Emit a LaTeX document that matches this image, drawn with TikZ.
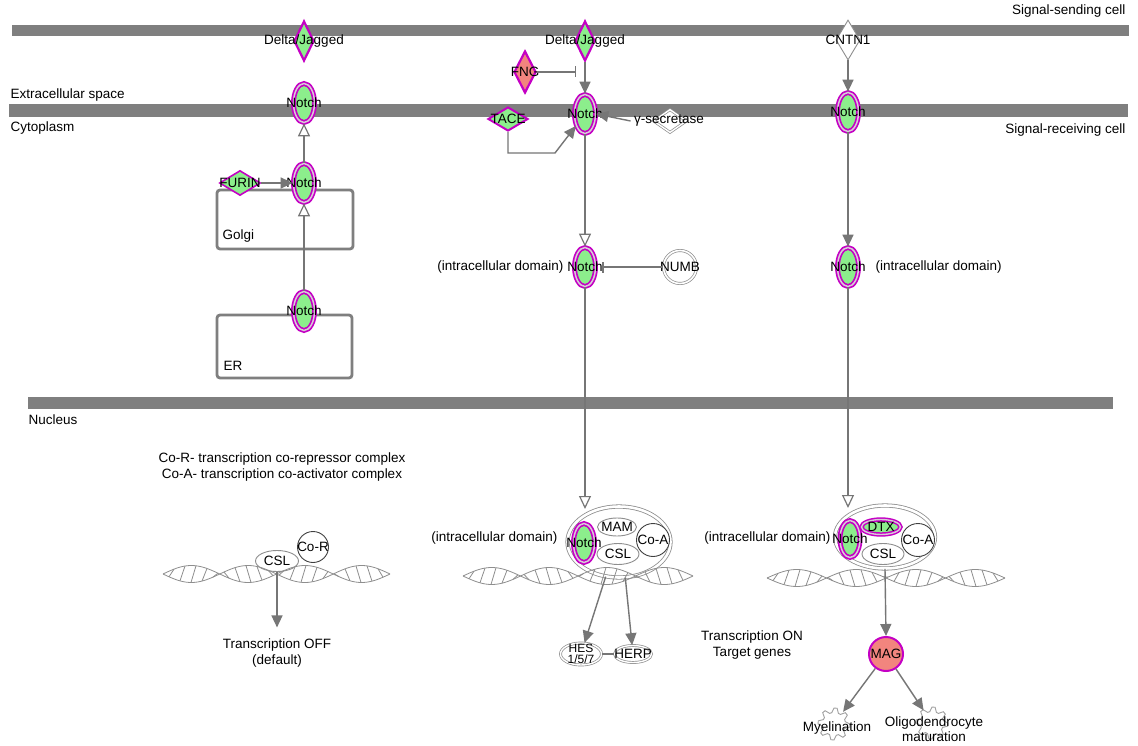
\documentclass[tikz,border=0pt]{standalone}
\usepackage{fontspec}
\setmainfont{Liberation Sans}
\usetikzlibrary{shapes.geometric,arrows.meta}
\definecolor{mag}{HTML}{C400C4}
\definecolor{ngreen}{HTML}{8CEE8C}
\definecolor{salm}{HTML}{F2857E}
\definecolor{barg}{HTML}{7F7F7F}
\definecolor{lineg}{HTML}{767676}
\definecolor{dblg}{HTML}{D8CCD8}
\definecolor{outg}{HTML}{8E8E8E}
\definecolor{darkc}{HTML}{404040}
\definecolor{gearg}{HTML}{A0A0A0}
\newcommand{\dnahelix}[3]{%
  \pgfmathsetmacro{\hk}{720/(#2-#1)}%
  \draw[dnast] plot[domain=#1:#2, samples=90, smooth] (\x, {#3+8.5*sin(\hk*(\x-#1))});
  \draw[dnast] plot[domain=#1:#2, samples=90, smooth] (\x, {#3-8.5*sin(\hk*(\x-#1))});
  \pgfmathsetmacro{\hs}{#1+6}\pgfmathsetmacro{\hn}{#1+17}\pgfmathsetmacro{\he}{#2-10}%
  \foreach \t in {\hs,\hn,...,\he}{%
    \draw[dnast] (\t,{#3+8.5*sin(\hk*(\t-#1))}) -- ({\t+5},{#3-8.5*sin(\hk*(\t+5-#1))});
  }%
}
\newcommand{\gearat}[2]{%
  \draw[draw=gearg, line width=0.9pt, fill=white] plot[samples at={0,11.25,...,348.75}, variable=\a]
   ({#1+ifthenelse(mod(round(\a/11.25),4)<2,16,11.5)*cos(\a)}, {#2+ifthenelse(mod(round(\a/11.25),4)<2,16,11.5)*sin(\a)}) -- cycle;%
}
\begin{document}
\begin{tikzpicture}[x=1pt,y=-1pt,
  every node/.style={font=\fontsize{13.5}{15.5}\selectfont, text=black},
  every label/.style={inner sep=0pt},
  notchn/.style={ellipse, draw=mag, double=dblg, double distance=1.5pt, line width=1.7pt, fill=ngreen,
     minimum width=21pt, minimum height=39pt, inner sep=0pt, label=center:Notch},
  gdia/.style={diamond, draw=mag, line width=2.2pt, fill=ngreen, inner sep=0pt},
  cplx/.style={ellipse, draw=outg, line width=0.8pt, double=white, double distance=2.6pt, fill=white, inner sep=0pt},
  gell/.style={ellipse, draw=outg, line width=0.9pt, fill=white, inner sep=0pt},
  dcirc/.style={circle, draw=darkc, line width=0.9pt, fill=white, inner sep=0pt},
  dgell/.style={ellipse, draw=outg, line width=0.7pt, double=white, double distance=1.4pt, fill=white, inner sep=0pt},
  fillarr/.style={draw=lineg, line width=1.4pt, -{Triangle[length=12pt,width=11pt]}},
  openarr/.style={draw=lineg, line width=1.2pt, -{Triangle[open, length=13pt, width=12pt, fill=white]}},
  inhib/.style={draw=lineg, line width=1.2pt, -{Bar[width=11pt, line width=1.2pt]}},
  compbox/.style={draw=barg, line width=2.8pt, rounded corners=3pt},
  dnast/.style={draw=outg, line width=0.8pt},
  membar/.style={fill=barg},
  gearnode/.style={circle, minimum size=30pt, inner sep=0pt}
]
\path[use as bounding box, fill=white] (0,0) rectangle (1138,746);

% membranes
\fill[membar] (12,25) rectangle (1129,36);
\fill[membar] (9,104) rectangle (1128,117);
\fill[membar] (28,397) rectangle (1113,409);

% region labels
\node[anchor=east] (lsend) at (1129,11) {Signal-sending cell};
\node[anchor=west] (lext) at (7,95) {Extracellular space};
\node[anchor=west] (lcyt) at (7,128) {Cytoplasm};
\node[anchor=east] (lrec) at (1129,130) {Signal-receiving cell};
\node[anchor=west] (lnuc) at (25,420) {Nucleus};

% Golgi / ER boxes
\draw[compbox] (217,190) rectangle (353,249);
\draw[compbox] (217,315) rectangle (352,378);
\node[anchor=west] (lgolgi) at (219,236) {Golgi};
\node[anchor=west] (ler) at (220,366) {ER};

% column 1
\node[gdia, minimum width=20pt, minimum height=40pt, label=center:Delta/Jagged] (dj1) at (304,41) {};
\node[notchn] (n1a) at (304,103) {};
\node[notchn] (n1b) at (304,183) {};
\node[gdia, line width=1.6pt, minimum width=41pt, minimum height=25pt, label=center:FURIN] (furin) at (240,183) {};
\node[notchn] (n1c) at (304,311) {};

% column 2
\node[gdia, minimum width=20pt, minimum height=40pt, label=center:Delta/Jagged] (dj2) at (585,41) {};
\node[gdia, fill=salm, minimum width=22pt, minimum height=42pt, label=center:FNG] (fng) at (525,72) {};
\node[notchn] (n2a) at (585,114) {};
\node[gdia, line width=2pt, minimum width=40pt, minimum height=24pt, label=center:TACE] (tace) at (508,119) {};
\node[diamond, draw=outg, line width=0.7pt, double=white, double distance=1.4pt, fill=white, inner sep=0pt,
      minimum width=33pt, minimum height=23pt] (gsec) at (670,121) {};
\node (gsl) at (669,121) {γ-secretase};
\node[notchn] (n2b) at (585,267) {};
\node[anchor=east] (icd1) at (567,267) {(intracellular domain)};
\node[circle, draw=outg, line width=0.7pt, double=white, double distance=1.6pt, fill=white, inner sep=0pt,
      minimum size=33pt, label=center:NUMB] (numb) at (680,267) {};

% column 3
\node[diamond, draw=outg, line width=0.9pt, fill=white, inner sep=0pt, minimum width=24pt, minimum height=40pt,
      label=center:CNTN1] (cntn) at (848,40) {};
\node[notchn] (n3a) at (848,112) {};
\node[notchn] (n3b) at (848,267) {};
\node[anchor=west] (icd2) at (872,267) {(intracellular domain)};

% nucleus: left
\node[align=center] (legend) at (282,467) {Co-R- transcription co-repressor complex\\Co-A- transcription co-activator complex};
\node[gell, minimum width=43pt, minimum height=21pt, label=center:CSL] (csl0) at (277,561) {};
\node[dcirc, minimum size=31pt, label=center:Co-R] (cor) at (313,547) {};
\dnahelix{163}{390}{574}
\node[align=center] (toff) at (277,653) {Transcription OFF\\(default)};

% nucleus: middle complex
\node[cplx, minimum width=103pt, minimum height=71pt] (cx2) at (619,542) {};
\node[notchn] (n2c) at (584,543) {};
\node[gell, minimum width=39pt, minimum height=18pt, label=center:MAM] (mam) at (617,527) {};
\node[gell, minimum width=42pt, minimum height=21pt, label=center:CSL] (csl2) at (618,554) {};
\node[dcirc, minimum size=33pt, label=center:Co-A] (coa2) at (653,540) {};
\node[anchor=east] (icd3) at (561,538) {(intracellular domain)};
\dnahelix{463}{693}{576}
\node[dgell, minimum width=41pt, minimum height=22pt,
      label={[align=center, font=\fontsize{12}{10.5}\selectfont]center:{HES\\1/5/7}}] (hes) at (581,654) {};
\node[dgell, minimum width=37pt, minimum height=17pt, label=center:HERP] (herp) at (633,654) {};

% nucleus: right complex
\node[cplx, minimum width=100pt, minimum height=63pt] (cx3) at (885,537) {};
\node[notchn, minimum width=20pt, minimum height=37pt] (n3c) at (850,539) {};
\node[ellipse, draw=mag, double=dblg, double distance=1.4pt, line width=1.5pt, fill=ngreen, inner sep=0pt,
      minimum width=39pt, minimum height=15pt, label=center:DTX] (dtx) at (881,527) {};
\node[gell, minimum width=42pt, minimum height=21pt, label=center:CSL] (csl3) at (883,554) {};
\node[dcirc, minimum size=33pt, label=center:Co-A] (coa3) at (918,540) {};
\node[anchor=east] (icd4) at (834,538) {(intracellular domain)};
\dnahelix{767}{1005}{578}
\node[align=center] (ton) at (752,645) {Transcription ON\\Target genes};
\node[circle, draw=mag, line width=2pt, fill=salm, inner sep=0pt, minimum size=34pt, label=center:MAG] (mag) at (886,654) {};
\node[gearnode] (g1) at (834,724) {};
\node[gearnode] (g2) at (932,723) {};
\gearat{834}{724}
\gearat{932}{723}
\node (lmy) at (837,728) {Myelination};
\node[align=center, font=\fontsize{13.5}{15.5}\selectfont] (lol) at (934,729) {Oligodendrocyte\\maturation};

% coordinates for free ends
\coordinate (fngbar) at (576,72);
\coordinate (tacebend) at (555,153);
\coordinate (t2) at (585,509);
\coordinate (t3) at (848,508);

% connectors column 1
\draw[openarr] (n1b.north) -- (n1a.south);
\draw[fillarr] (furin.east) -- (n1b.west);
\draw[openarr] (n1c.north) -- (n1b.south);
% column 2
\draw[fillarr] (dj2.south) -- (n2a.north);
\draw[inhib] (fng.east) -- (fngbar);
\draw[fillarr] (tace.south) |- (tacebend) -- (n2a);
\draw[fillarr] (gsl.west) -- (n2a.east);
\draw[openarr] (n2a.south) -- (n2b.north);
\draw[inhib, shorten >=6pt] (numb.west) -- (n2b.east);
\draw[openarr] (n2b.south) -- (t2);
\draw[fillarr] (cx2.249) -- (hes);
\draw[fillarr] (cx2.280) -- (herp);
\draw[draw=lineg, line width=1.2pt] (hes.east) -- (herp.west);
% column 3
\draw[fillarr] (cntn.south) -- (n3a.north);
\draw[fillarr] (n3a.south) -- (n3b.north);
\draw[openarr] (n3b.south) -- (t3);
\draw[fillarr] (cx3.south) -- (mag.north);
\draw[fillarr] (mag) -- (g1);
\draw[fillarr] (mag) -- (g2);
% left nucleus
\draw[fillarr, shorten >=8pt] (csl0.south) -- (toff.north);
\end{tikzpicture}
\end{document}
